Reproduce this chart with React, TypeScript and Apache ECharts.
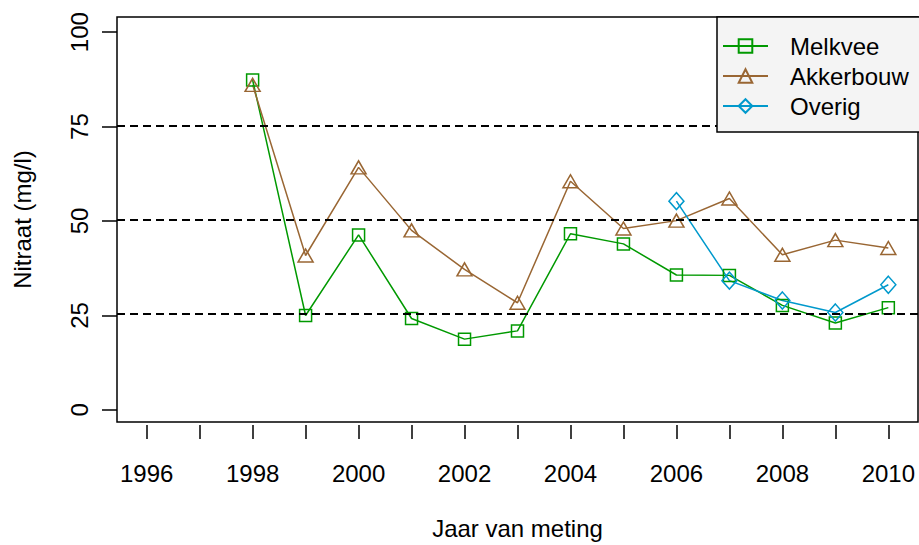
import React, { useEffect, useRef } from "react";
import * as echarts from "echarts";

// Nitrate measurements per year (mg/l)
const years = [1998, 1999, 2000, 2001, 2002, 2003, 2004, 2005, 2006, 2007, 2008, 2009, 2010];
const melkvee = [87.2, 24.4, 45.9, 23.6, 18.1, 20.3, 46.2, 43.5, 35.2, 35.1, 27.1, 22.4, 26.5];
const akkerbouw = [85.9, 40.4, 63.9, 47.1, 36.7, 27.8, 60.2, 47.6, 49.7, 55.6, 40.6, 44.5, 42.4];
const overigYears = [2006, 2007, 2008, 2009, 2010];
const overig = [54.9, 33.7, 28.4, 25.2, 32.6];

const refLines = [25, 50, 75];
const yTicks = [0, 25, 50, 75, 100];

const FONT = "'Liberation Sans', Arial, sans-serif";
const FS = 24;
const W = 919;
const H = 545;

// plot box
const BOX_L = 117;
const BOX_R = 918;
const BOX_T = 17;
const BOX_B = 425;
const X_MIN = 1996;
const X_MAX = 2010;
const Y_MIN = 0;
const Y_MAX = 100;
const xPad = (X_MAX - X_MIN) * 0.04;
const yPad = (Y_MAX - Y_MIN) * 0.04;

const pxPerYear = (BOX_R - BOX_L) / (X_MAX - X_MIN + 2 * xPad);
const pxPerUnit = (BOX_B - BOX_T) / (Y_MAX - Y_MIN + 2 * yPad);

const GREEN = "#009900";
const BROWN = "#996633";
const BLUE = "#0099cc";

function pairs(xs: number[], ys: number[]) {
  return xs.map((x, i) => [x, ys[i]]);
}

export default function App() {
  const ref = useRef<HTMLDivElement>(null);

  useEffect(() => {
    if (!ref.current) return;
    const chart = echarts.init(ref.current, null, { renderer: "svg" });

    const tickGridLeft = BOX_L + xPad * pxPerYear;
    const tickGridRight = W - (BOX_R - xPad * pxPerYear);
    const yGridTop = BOX_T + yPad * pxPerUnit;
    const yGridBottom = H - (BOX_B - yPad * pxPerUnit);

    const seriesBase = {
      type: "line" as const,
      xAxisIndex: 0,
      yAxisIndex: 0,
      z: 2,
      symbolKeepAspect: true,
      showAllSymbol: true,
      clip: false,
    };

    chart.setOption({
      animation: false,
      backgroundColor: "#ffffff",
      textStyle: { fontFamily: FONT },
      grid: [
        {
          left: BOX_L,
          right: W - BOX_R,
          top: BOX_T,
          bottom: H - BOX_B,
          show: true,
          borderColor: "#000",
          borderWidth: 1.5,
          backgroundColor: "transparent",
        },
        { left: tickGridLeft, right: tickGridRight, top: BOX_T, bottom: H - BOX_B },
        { left: BOX_L, right: W - BOX_R, top: yGridTop, bottom: yGridBottom },
      ],
      xAxis: [
        {
          gridIndex: 0,
          type: "value",
          min: X_MIN - xPad,
          max: X_MAX + xPad,
          axisLine: { show: false },
          axisTick: { show: false },
          axisLabel: { show: false },
          splitLine: { show: false },
          name: "Jaar van meting",
          nameLocation: "middle",
          nameGap: 94,
          nameTextStyle: { fontSize: FS, color: "#000", fontFamily: FONT },
        },
        {
          gridIndex: 1,
          type: "value",
          min: X_MIN,
          max: X_MAX,
          interval: 1,
          axisLine: { show: false },
          axisTick: { show: true, length: 14, lineStyle: { color: "#000", width: 1.5 } },
          axisLabel: {
            fontSize: FS,
            color: "#000",
            fontFamily: FONT,
            margin: 36,
            formatter: (v: number) => (Math.round(v) % 2 === 0 ? String(Math.round(v)) : ""),
          },
          splitLine: { show: false },
        },
        {
          gridIndex: 2,
          type: "value",
          show: false,
          min: 0,
          max: 1,
        },
      ],
      yAxis: [
        {
          gridIndex: 0,
          type: "value",
          min: Y_MIN - yPad,
          max: Y_MAX + yPad,
          axisLine: { show: false },
          axisTick: { show: false },
          axisLabel: { show: false },
          splitLine: { show: false },
          name: "Nitraat (mg/l)",
          nameLocation: "middle",
          nameGap: 83,
          nameTextStyle: { fontSize: FS, color: "#000", fontFamily: FONT },
        },
        {
          gridIndex: 1,
          type: "value",
          show: false,
          min: 0,
          max: 1,
        },
        {
          gridIndex: 2,
          type: "value",
          min: Y_MIN,
          max: Y_MAX,
          interval: 25,
          axisLine: { show: false },
          axisTick: { show: true, length: 15, lineStyle: { color: "#000", width: 1.5 } },
          axisLabel: {
            rotate: 90,
            fontSize: FS,
            color: "#000",
            fontFamily: FONT,
            margin: 26,
            formatter: (v: number) => (yTicks.includes(v) ? String(v) : ""),
          },
          splitLine: { show: false },
        },
      ],
      legend: {
        z: 10,
        orient: "vertical",
        left: 717,
        top: BOX_T,
        width: BOX_R - 717,
        itemWidth: 45,
        itemHeight: 17,
        itemGap: 6,
        padding: [17, 20, 14, 5],
        backgroundColor: "#f4f4f4",
        borderColor: "#000",
        borderWidth: 1.5,
        borderRadius: 0,
        textStyle: { fontSize: FS, color: "#000", fontFamily: FONT, padding: [0, 0, 0, 17] },
        data: ["Melkvee", "Akkerbouw", "Overig"],
      },
      series: [
        {
          ...seriesBase,
          name: "Melkvee",
          data: pairs(years, melkvee),
          symbol: "rect",
          symbolSize: 12,
          lineStyle: { color: GREEN, width: 1.5 },
          itemStyle: { color: "rgba(255,255,255,0)", borderColor: GREEN, borderWidth: 1.5 },
          markLine: {
            silent: true,
            symbol: "none",
            label: { show: false },
            lineStyle: { color: "#000", type: [8, 5], width: 2 },
            data: refLines.map((v) => ({ yAxis: v })),
          },
        },
        {
          ...seriesBase,
          name: "Akkerbouw",
          data: pairs(years, akkerbouw),
          symbol: "triangle",
          symbolSize: [15, 13],
          lineStyle: { color: BROWN, width: 1.5 },
          itemStyle: { color: "rgba(255,255,255,0)", borderColor: BROWN, borderWidth: 1.5 },
        },
        {
          ...seriesBase,
          name: "Overig",
          data: pairs(overigYears, overig),
          symbol: "diamond",
          symbolSize: [15, 17],
          lineStyle: { color: BLUE, width: 1.5 },
          itemStyle: { color: "rgba(255,255,255,0)", borderColor: BLUE, borderWidth: 1.5 },
        },
      ],
    });

    return () => chart.dispose();
  }, []);

  return (
    <div
      ref={ref}
      style={{ position: "absolute", left: 0, top: 0, width: W, height: H }}
    />
  );
}
